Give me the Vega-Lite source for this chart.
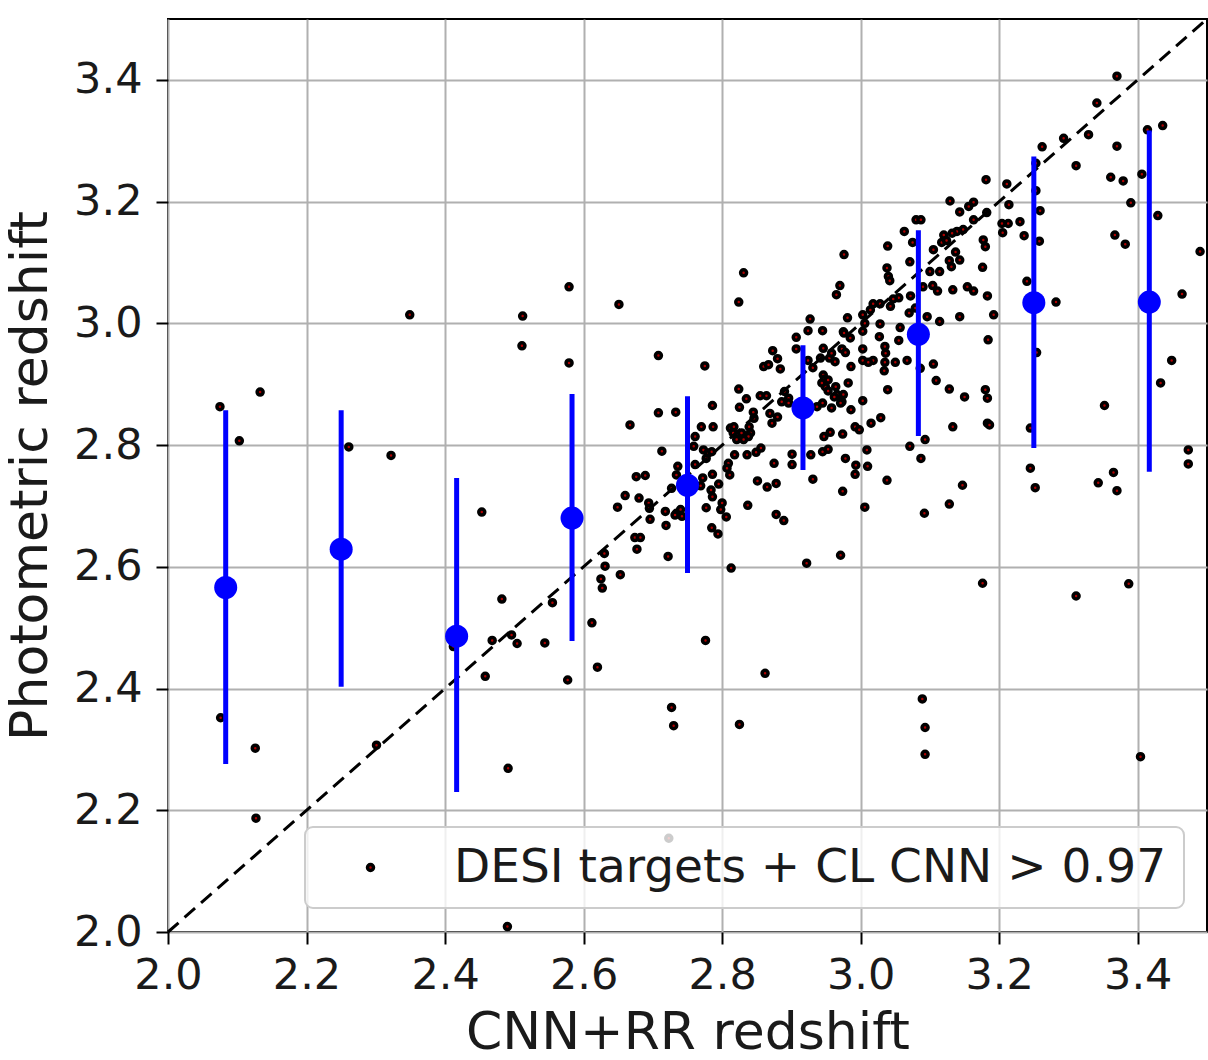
{
  "$schema": "https://vega.github.io/schema/vega-lite/v6.json",
  "width": 1039,
  "height": 913,
  "autosize": {"type": "none"},
  "padding": {"left": 168, "top": 19, "right": 1, "bottom": 128},
  "background": "white",
  "datasets": {
    "scatter": [
      {"x":2.075,"y":2.863},{"x":2.133,"y":2.887},{"x":2.103,"y":2.807},{"x":2.261,"y":2.797},{"x":2.322,"y":2.783},
      {"x":2.349,"y":3.014},{"x":2.512,"y":3.012},{"x":2.511,"y":2.963},{"x":2.579,"y":3.060},{"x":2.579,"y":2.935},
      {"x":2.651,"y":3.031},{"x":2.708,"y":2.947},{"x":2.667,"y":2.833},{"x":2.708,"y":2.853},{"x":2.733,"y":2.854},
      {"x":2.713,"y":2.790},{"x":2.676,"y":2.748},{"x":2.689,"y":2.750},{"x":2.734,"y":2.751},{"x":2.736,"y":2.765},
      {"x":2.076,"y":2.352},{"x":2.126,"y":2.302},{"x":2.127,"y":2.187},{"x":2.301,"y":2.307},{"x":2.453,"y":2.690},
      {"x":2.482,"y":2.547},{"x":2.458,"y":2.420},{"x":2.491,"y":2.269},{"x":2.490,"y":2.009},{"x":2.412,"y":2.469},
      {"x":2.468,"y":2.479},{"x":2.496,"y":2.488},{"x":2.504,"y":2.474},{"x":2.544,"y":2.475},{"x":2.555,"y":2.541},
      {"x":2.577,"y":2.414},{"x":2.612,"y":2.508},{"x":2.620,"y":2.435},{"x":2.625,"y":2.580},{"x":2.627,"y":2.565},
      {"x":2.653,"y":2.587},{"x":2.630,"y":2.622},{"x":2.631,"y":2.601},{"x":2.649,"y":2.698},{"x":2.660,"y":2.717},
      {"x":2.680,"y":2.713},{"x":2.694,"y":2.705},{"x":2.695,"y":2.696},{"x":2.696,"y":2.678},{"x":2.674,"y":2.648},
      {"x":2.682,"y":2.648},{"x":2.677,"y":2.629},{"x":2.718,"y":2.691},{"x":2.719,"y":2.668},{"x":2.722,"y":2.617},
      {"x":2.727,"y":2.729},{"x":2.734,"y":2.688},{"x":2.727,"y":2.369},{"x":2.730,"y":2.339},{"x":2.723,"y":2.154},
      {"x":2.740,"y":2.694},{"x":2.742,"y":2.683},{"x":2.732,"y":2.685},
      {"x":3.245,"y":2.762},{"x":3.252,"y":2.730},{"x":3.343,"y":2.738},{"x":3.365,"y":2.755},{"x":3.370,"y":2.725},
      {"x":3.473,"y":2.769},{"x":3.176,"y":2.573},{"x":3.311,"y":2.552},{"x":3.387,"y":2.572},{"x":2.776,"y":2.479},
      {"x":2.862,"y":2.425},{"x":2.825,"y":2.341},{"x":3.089,"y":2.383},{"x":3.093,"y":2.336},{"x":3.093,"y":2.292},
      {"x":3.404,"y":2.288},{"x":2.971,"y":2.619},{"x":2.922,"y":2.606},{"x":2.813,"y":2.598},{"x":3.092,"y":2.688},
      {"x":3.128,"y":2.703},{"x":3.147,"y":2.734},{"x":3.038,"y":2.742},{"x":3.006,"y":2.698},{"x":3.010,"y":2.765},
      {"x":2.992,"y":2.752},{"x":2.993,"y":2.767},{"x":2.931,"y":2.744},{"x":2.974,"y":2.724},{"x":2.878,"y":2.686},
      {"x":2.889,"y":2.676},{"x":2.837,"y":2.701},{"x":2.851,"y":2.741},{"x":2.865,"y":2.731},{"x":2.878,"y":2.737},
      {"x":2.785,"y":2.664},{"x":2.794,"y":2.654},{"x":2.777,"y":2.697},{"x":2.800,"y":2.705},{"x":2.798,"y":2.694},
      {"x":2.806,"y":2.682},{"x":2.786,"y":2.752},{"x":2.795,"y":2.736},{"x":2.784,"y":2.726},{"x":2.786,"y":2.715},
      {"x":2.811,"y":2.751},{"x":2.809,"y":2.770},{"x":2.761,"y":2.768},{"x":2.875,"y":2.770},{"x":2.901,"y":2.768},
      {"x":2.772,"y":2.746},{"x":2.769,"y":2.733},
      {"x":3.370,"y":3.406},{"x":3.341,"y":3.362},{"x":3.329,"y":3.310},{"x":3.293,"y":3.304},{"x":3.436,"y":3.325},
      {"x":3.414,"y":3.318},{"x":3.370,"y":3.291},{"x":3.311,"y":3.259},{"x":3.262,"y":3.290},{"x":3.253,"y":3.263},
      {"x":3.361,"y":3.240},{"x":3.379,"y":3.234},{"x":3.406,"y":3.245},{"x":3.390,"y":3.198},{"x":3.429,"y":3.177},
      {"x":3.367,"y":3.145},{"x":3.382,"y":3.130},{"x":3.490,"y":3.118},{"x":3.464,"y":3.048},{"x":3.282,"y":3.035},
      {"x":3.254,"y":2.952},{"x":3.449,"y":2.939},{"x":3.433,"y":2.902},{"x":3.352,"y":2.865},{"x":3.245,"y":2.828},
      {"x":3.473,"y":2.792},{"x":3.240,"y":3.069},{"x":3.253,"y":3.218},{"x":3.259,"y":3.185},{"x":3.258,"y":3.135},
      {"x":3.236,"y":3.144},{"x":3.230,"y":3.167},{"x":3.211,"y":3.229},{"x":3.214,"y":3.195},{"x":3.181,"y":3.236},
      {"x":3.182,"y":3.182},{"x":3.213,"y":3.164},{"x":3.204,"y":3.164},{"x":3.205,"y":3.149},{"x":3.163,"y":3.170},
      {"x":3.163,"y":3.199},{"x":3.156,"y":3.192},{"x":3.143,"y":3.183},{"x":3.129,"y":3.201},{"x":3.148,"y":3.154},
      {"x":3.139,"y":3.151},{"x":3.132,"y":3.148},{"x":3.120,"y":3.145},{"x":3.117,"y":3.133},{"x":3.124,"y":3.136},
      {"x":3.177,"y":3.137},{"x":3.180,"y":3.126},{"x":3.105,"y":3.121},{"x":3.137,"y":3.117},{"x":3.080,"y":3.170},
      {"x":3.087,"y":3.170},{"x":3.063,"y":3.151},{"x":3.075,"y":3.133},{"x":3.039,"y":3.127},{"x":2.976,"y":3.113},
      {"x":3.071,"y":3.101},{"x":3.038,"y":3.091},{"x":3.040,"y":3.077},{"x":3.042,"y":3.070},{"x":3.100,"y":3.085},
      {"x":3.114,"y":3.085},{"x":3.131,"y":3.093},{"x":3.143,"y":3.104},{"x":3.128,"y":3.103},{"x":3.176,"y":3.092},
      {"x":2.831,"y":3.083},{"x":2.824,"y":3.035},{"x":2.970,"y":3.062},{"x":2.965,"y":3.047},{"x":3.104,"y":3.062},
      {"x":3.111,"y":3.053},{"x":3.090,"y":3.060},{"x":3.133,"y":3.055},{"x":3.154,"y":3.060},{"x":3.163,"y":3.053},
      {"x":3.183,"y":3.045},{"x":3.192,"y":3.014},{"x":3.143,"y":3.011},{"x":3.114,"y":3.003},{"x":3.096,"y":3.011},
      {"x":3.070,"y":3.017},{"x":3.072,"y":3.045},{"x":3.055,"y":3.042},{"x":3.047,"y":3.040},{"x":3.043,"y":3.028},
      {"x":3.028,"y":3.032},{"x":3.018,"y":3.032},{"x":3.014,"y":3.022},{"x":3.003,"y":3.014},{"x":2.981,"y":3.009},
      {"x":2.975,"y":2.986},{"x":3.028,"y":2.999},{"x":3.027,"y":2.978},{"x":3.003,"y":2.987},{"x":3.057,"y":2.993},
      {"x":3.055,"y":2.972},{"x":3.035,"y":2.962},{"x":3.036,"y":2.951},{"x":3.035,"y":2.936},{"x":3.034,"y":2.922},
      {"x":3.067,"y":2.939},{"x":3.086,"y":2.926},{"x":3.105,"y":2.933},{"x":3.109,"y":2.906},{"x":3.128,"y":2.892},
      {"x":3.150,"y":2.879},{"x":3.180,"y":2.891},{"x":3.183,"y":2.877},{"x":3.184,"y":2.973},{"x":3.039,"y":2.891},
      {"x":3.003,"y":2.958},{"x":3.003,"y":2.939},{"x":3.018,"y":2.939},{"x":3.011,"y":2.936},{"x":2.986,"y":2.929},
      {"x":2.982,"y":2.902},{"x":2.973,"y":2.958},{"x":2.978,"y":2.952},{"x":2.946,"y":2.959},{"x":2.942,"y":2.943},
      {"x":2.955,"y":2.943},{"x":2.927,"y":3.007},{"x":2.924,"y":2.988},{"x":2.945,"y":2.988},{"x":2.976,"y":2.984},
      {"x":2.907,"y":2.977},{"x":2.907,"y":2.958},{"x":2.924,"y":2.939},{"x":2.931,"y":2.927},{"x":2.873,"y":2.955},
      {"x":2.880,"y":2.942},{"x":2.884,"y":2.925},{"x":2.860,"y":2.929},{"x":2.867,"y":2.932},{"x":2.775,"y":2.930},
      {"x":2.946,"y":2.915},{"x":2.948,"y":2.908},{"x":2.949,"y":2.896},{"x":2.953,"y":2.889},{"x":2.964,"y":2.896},
      {"x":2.966,"y":2.883},{"x":2.962,"y":2.879},{"x":2.975,"y":2.883},{"x":2.973,"y":2.871},{"x":2.944,"y":2.902},
      {"x":2.945,"y":2.869},{"x":2.937,"y":2.863},{"x":2.958,"y":2.861},{"x":2.971,"y":2.869},{"x":2.986,"y":2.858},
      {"x":3.003,"y":2.873},{"x":3.029,"y":2.845},{"x":3.015,"y":2.836},{"x":2.992,"y":2.830},{"x":2.998,"y":2.825},
      {"x":2.974,"y":2.818},{"x":2.956,"y":2.821},{"x":2.947,"y":2.814},{"x":2.945,"y":2.789},{"x":2.953,"y":2.793},
      {"x":2.928,"y":2.784},{"x":2.901,"y":2.785},{"x":2.824,"y":2.892},{"x":2.825,"y":2.862},{"x":2.855,"y":2.881},
      {"x":2.864,"y":2.881},{"x":2.835,"y":2.876},{"x":2.890,"y":2.888},{"x":2.896,"y":2.877},{"x":2.886,"y":2.871},
      {"x":2.896,"y":2.869},{"x":2.845,"y":2.854},{"x":2.846,"y":2.844},{"x":2.869,"y":2.852},{"x":2.880,"y":2.846},
      {"x":2.872,"y":2.836},{"x":2.839,"y":2.830},{"x":2.841,"y":2.820},{"x":2.786,"y":2.865},{"x":2.770,"y":2.830},
      {"x":2.787,"y":2.830},{"x":2.812,"y":2.828},{"x":2.817,"y":2.830},{"x":2.816,"y":2.820},{"x":2.828,"y":2.820},
      {"x":2.838,"y":2.814},{"x":2.761,"y":2.814},{"x":2.759,"y":2.798},{"x":2.773,"y":2.792},{"x":2.780,"y":2.787},
      {"x":2.785,"y":2.789},{"x":2.777,"y":2.778},{"x":2.818,"y":2.784},{"x":2.836,"y":2.784},{"x":2.849,"y":2.788},
      {"x":2.821,"y":2.809},{"x":2.831,"y":2.809},{"x":2.856,"y":2.795},{"x":2.807,"y":2.762},{"x":3.071,"y":2.798},
      {"x":3.087,"y":2.778},{"x":3.093,"y":2.809},{"x":3.133,"y":2.830},{"x":3.183,"y":2.836},{"x":3.186,"y":2.833},
      {"x":3.009,"y":2.792},{"x":2.978,"y":2.778},{"x":2.958,"y":2.951},{"x":2.985,"y":2.976},{"x":2.963,"y":2.937},
      {"x":2.953,"y":2.907},{"x":3.050,"y":2.936},{"x":3.006,"y":3.000},{"x":3.079,"y":3.025}
    ],
    "bins": [
      {"x":2.0833,"y":2.566,"lo":2.276,"hi":2.857},
      {"x":2.25,"y":2.629,"lo":2.403,"hi":2.857},
      {"x":2.4167,"y":2.486,"lo":2.230,"hi":2.746},
      {"x":2.5833,"y":2.680,"lo":2.478,"hi":2.884},
      {"x":2.75,"y":2.734,"lo":2.590,"hi":2.880},
      {"x":2.9167,"y":2.861,"lo":2.759,"hi":2.964},
      {"x":3.0833,"y":2.982,"lo":2.815,"hi":3.153},
      {"x":3.25,"y":3.034,"lo":2.795,"hi":3.274},
      {"x":3.4167,"y":3.035,"lo":2.756,"hi":3.317}
    ],
    "diag": [{"x":2.0,"y":2.0},{"x":3.5,"y":3.5}]
  },
  "layer": [
    {
      "data": {"name": "scatter"},
      "mark": {"type": "point", "filled": true, "shape": "circle", "size": 36, "stroke": "black", "strokeWidth": 3.5, "opacity": 1, "clip": true},
      "encoding": {
        "x": {"field": "x", "type": "quantitative", "scale": {"domain": [2.0, 3.5], "nice": false, "zero": false},
              "axis": {"title": "CNN+RR redshift", "values": [2.0,2.2,2.4,2.6,2.8,3.0,3.2,3.4], "format": ".1f", "labelPadding": 10, "titlePadding": 10, "labelOverlap": false, "labelFlush": false}},
        "y": {"field": "y", "type": "quantitative", "scale": {"domain": [2.0, 3.5], "nice": false, "zero": false},
              "axis": {"title": "Photometric redshift", "values": [2.0,2.2,2.4,2.6,2.8,3.0,3.2,3.4], "format": ".1f", "labelPadding": 14, "titlePadding": 16, "labelOverlap": false, "labelFlush": false}},
        "color": {"datum": "DESI targets + CL CNN > 0.97", "type": "nominal", "scale": {"range": ["#b00000"]},
                  "legend": {"title": null, "orient": "none", "legendX": 137, "legendY": 808,
                             "labelFontSize": 47, "labelFont": "DejaVu Sans", "labelColor": "#1a1a1a",
                             "padding": 17, "symbolOffset": 25, "labelOffset": 60, "symbolSize": 36,
                             "symbolType": "circle", "symbolStrokeColor": "black", "symbolStrokeWidth": 3.5,
                             "fillColor": "rgba(255,255,255,0.8)", "strokeColor": "#cccccc",
                             "cornerRadius": 8, "labelLimit": 1200}}
      }
    },
    {
      "data": {"name": "diag"},
      "mark": {"type": "line", "color": "black", "strokeWidth": 3, "strokeDash": [14, 8]},
      "encoding": {
        "x": {"field": "x", "type": "quantitative"},
        "y": {"field": "y", "type": "quantitative"}
      }
    },
    {
      "data": {"name": "bins"},
      "mark": {"type": "rule", "color": "#0000ff", "strokeWidth": 5},
      "encoding": {
        "x": {"field": "x", "type": "quantitative"},
        "y": {"field": "lo", "type": "quantitative"},
        "y2": {"field": "hi"}
      }
    },
    {
      "data": {"name": "bins"},
      "mark": {"type": "point", "filled": true, "shape": "circle", "size": 530, "color": "#0000ff", "opacity": 1},
      "encoding": {
        "x": {"field": "x", "type": "quantitative"},
        "y": {"field": "y", "type": "quantitative"}
      }
    }
  ],
  "config": {
    "font": "DejaVu Sans",
    "view": {"stroke": "black", "strokeWidth": 2},
    "legend": {"strokeWidth": 2},
    "axis": {
      "domain": false, "grid": true, "gridColor": "#b0b0b0", "gridWidth": 2,
      "tickColor": "black", "tickWidth": 2, "tickSize": 12,
      "labelFont": "DejaVu Sans", "labelFontSize": 43, "labelColor": "#1a1a1a",
      "titleFont": "DejaVu Sans", "titleFontSize": 52, "titleFontWeight": "normal", "titleColor": "#1a1a1a"
    }
  }
}
